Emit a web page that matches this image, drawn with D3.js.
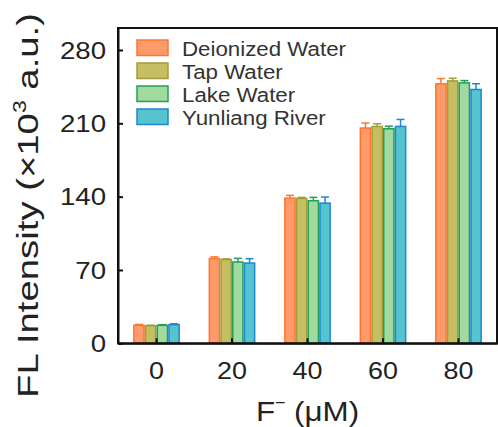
<!DOCTYPE html>
<html><head><meta charset="utf-8">
<script src="https://cdn.jsdelivr.net/npm/d3@7"></script>
<style>html,body{margin:0;padding:0;background:#fff;}svg{display:block;}</style>
</head><body>
<svg id="c" width="498" height="427"></svg>
<script>
const categories = ["0", "20", "40", "60", "80"];
const seriesNames = ["Deionized Water", "Tap Water", "Lake Water", "Yunliang River"];
const deionized = [17.2, 81.0, 138.6, 205.5, 247.7];
const tap       = [16.8, 80.0, 138.3, 207.0, 250.5];
const lake      = [17.2, 77.6, 136.1, 204.8, 248.6];
const river     = [17.8, 76.6, 133.8, 207.0, 242.3];
const deionizedErr = [0.8, 1.5, 2.6, 4.8, 5.0];
const tapErr       = [0.5, 0.6, 1.0, 2.6, 2.5];
const lakeErr      = [0.6, 3.5, 3.2, 2.5, 2.2];
const riverErr     = [0.8, 4.2, 5.8, 6.7, 5.5];
const yTicks = [0, 70, 140, 210, 280];

const fills   = ["#FF9A6A", "#C5BE62", "#A2D99E", "#56C4CF"];
const strokes = ["#FF7530", "#A39D38", "#22A05A", "#1E86D6"];

const values = [deionized, tap, lake, river];
const errs = [deionizedErr, tapErr, lakeErr, riverErr];

const svg = d3.select("#c");
const L = 118, R = 497, T = 28, B = 343.3;

const x = d3.scaleBand().domain(categories).range([L, R]).paddingInner(0.38).paddingOuter(0.2);
const xs = d3.scaleBand().domain(seriesNames).range([0, x.bandwidth()]).padding(0);
const y = d3.scaleLinear().domain([0, 301]).range([B, T]);

function stretch(sel, f) {
  sel.each(function () {
    const len = this.getComputedTextLength();
    this.setAttribute("textLength", len * f);
    this.setAttribute("lengthAdjust", "spacingAndGlyphs");
  });
}

// bars
const data = [];
categories.forEach((c, i) => seriesNames.forEach((s, j) => data.push({c, s, j, v: values[j][i], e: errs[j][i]})));

const g = svg.append("g");
g.selectAll("rect.bar").data(data).join("rect")
  .attr("class", "bar")
  .attr("x", d => x(d.c) + xs(d.s) + 0.75)
  .attr("width", xs.bandwidth() - 1.5)
  .attr("y", d => y(d.v))
  .attr("height", d => y(0) - y(d.v))
  .attr("fill", d => fills[d.j])
  .attr("stroke", d => strokes[d.j])
  .attr("stroke-width", 1.5);

// error bars (upper only)
const eb = g.selectAll("g.eb").data(data).join("g").attr("class", "eb")
  .attr("stroke", d => strokes[d.j]).attr("stroke-width", 1.5);
eb.append("line")
  .attr("x1", d => x(d.c) + xs(d.s) + xs.bandwidth() / 2)
  .attr("x2", d => x(d.c) + xs(d.s) + xs.bandwidth() / 2)
  .attr("y1", d => y(d.v))
  .attr("y2", d => y(d.v + d.e));
eb.append("line")
  .attr("x1", d => x(d.c) + xs(d.s) + xs.bandwidth() / 2 - 4)
  .attr("x2", d => x(d.c) + xs(d.s) + xs.bandwidth() / 2 + 4)
  .attr("y1", d => y(d.v + d.e))
  .attr("y2", d => y(d.v + d.e));

// frame
svg.append("rect").attr("x", L).attr("y", T).attr("width", R - L).attr("height", B - T)
  .attr("fill", "none").attr("stroke", "#111").attr("stroke-width", 2);

// axes
const xAxis = svg.append("g").attr("transform", `translate(0,${B})`)
  .call(d3.axisBottom(x).tickSizeInner(-5).tickSizeOuter(0).tickPadding(19));
const yAxis = svg.append("g").attr("transform", `translate(${L},0)`)
  .call(d3.axisLeft(y).tickValues(yTicks).tickSizeInner(-5).tickSizeOuter(0).tickPadding(12));
[xAxis, yAxis].forEach(a => {
  a.select(".domain").attr("stroke", "#111").attr("stroke-width", 2);
  a.selectAll(".tick line").attr("stroke", "#111").attr("stroke-width", 2);
  a.selectAll(".tick text").attr("font-family", "Liberation Sans, Arial, sans-serif")
    .attr("font-size", 23).attr("fill", "#222");
});
xAxis.selectAll(".tick text").attr("dy", "0.71em");
yAxis.selectAll(".tick text").attr("dy", "0.36em");
stretch(xAxis.selectAll(".tick text"), 1.17);
stretch(yAxis.selectAll(".tick text"), 1.2);

// legend
const lg = svg.append("g");
seriesNames.forEach((s, j) => {
  const ly = 40 + j * 23;
  lg.append("rect").attr("x", 137).attr("y", ly).attr("width", 31).attr("height", 15.5)
    .attr("fill", fills[j]).attr("stroke", strokes[j]).attr("stroke-width", 1.5);
  const t = lg.append("text").attr("x", 182).attr("y", ly + 15.5)
    .attr("font-family", "Liberation Sans, Arial, sans-serif").attr("font-size", 20)
    .attr("fill", "#333").text(s);
  stretch(t, 1.115);
});

// y title
const yt = svg.append("text")
  .attr("transform", "translate(37.5,205.5) rotate(-90)")
  .attr("text-anchor", "middle")
  .attr("font-family", "Liberation Sans, Arial, sans-serif").attr("font-size", 30)
  .attr("fill", "#222");
yt.append("tspan").text("FL Intensity (\u00d710");
yt.append("tspan").attr("font-size", 18).attr("dy", -12).text("3");
yt.append("tspan").attr("dy", 12).text(" a.u.)");
yt.attr("textLength", 385).attr("lengthAdjust", "spacingAndGlyphs");

// x title
const xt = svg.append("text")
  .attr("x", (L + R) / 2).attr("y", 421)
  .attr("text-anchor", "middle")
  .attr("font-family", "Liberation Sans, Arial, sans-serif").attr("font-size", 28.5)
  .attr("fill", "#222");
xt.append("tspan").text("F");
xt.append("tspan").attr("font-size", 16).attr("dy", -13).text("\u2212");
xt.append("tspan").attr("dy", 13).text(" (\u03bcM)");
stretch(xt, 1.1);
</script>
</body></html>
